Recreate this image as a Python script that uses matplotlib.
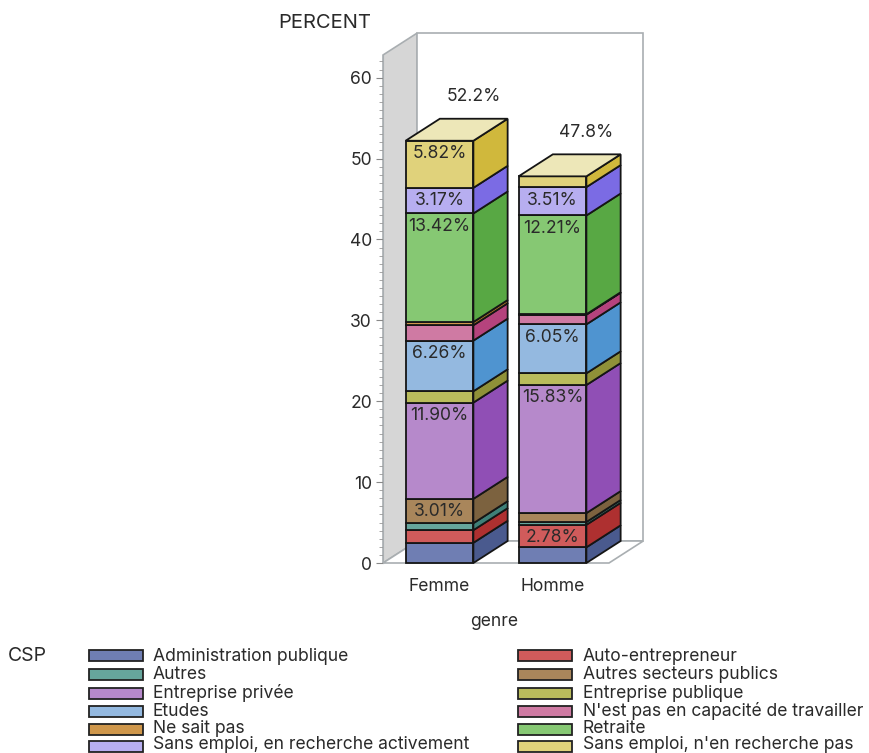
import matplotlib
matplotlib.use("Agg")
import matplotlib.pyplot as plt
from matplotlib.patches import Polygon, Rectangle
from matplotlib.ticker import MultipleLocator
import numpy as np

plt.rcParams['font.family'] = ['Inter', 'Liberation Sans', 'DejaVu Sans']

genres = ["Femme", "Homme"]
totals = ["52.2%", "47.8%"]
categories = ["Administration publique", "Auto-entrepreneur", "Autres", "Autres secteurs publics",
              "Entreprise privée", "Entreprise publique", "Etudes", "N'est pas en capacité de travailler",
              "Ne sait pas", "Retraite", "Sans emploi, en recherche activement", "Sans emploi, n'en recherche pas"]
femme = [2.50, 1.56, 0.86, 3.01, 11.90, 1.40, 6.26, 1.90, 0.40, 13.42, 3.17, 5.82]
homme = [1.94, 2.78, 0.35, 1.10, 15.83, 1.45, 6.05, 1.20, 0.05, 12.21, 3.51, 1.33]
labels_shown = [{"5.82%", "3.17%", "13.42%", "6.26%", "11.90%", "3.01%"},
                {"3.51%", "12.21%", "6.05%", "15.83%", "2.78%"}]
front = ["#6F7EB3", "#D05B5B", "#66A59C", "#A9865B", "#B689CB", "#BABC5C",
         "#94B9E0", "#CF7AA3", "#CF974B", "#86C873", "#B7AEF0", "#E0D27B"]
side = ["#4A5A8E", "#AE3030", "#3F8078", "#7C623F", "#904FB5", "#8F9138",
        "#4F94D0", "#B5437D", "#B47A25", "#58A844", "#7B6BE4", "#D0B83C"]
top = "#EDE7B8"

W, H = 869, 753
FS = 12.6
INK = "#2A2A2A"
fig = plt.figure(figsize=(W / 100, H / 100), dpi=100)
ax = fig.add_axes([383 / W, 1 - 563 / H, (609 - 383) / W, (563 - 55) / H])
ax.set_xlim(-0.5, 1.5)
ax.set_ylim(0, 62.8)
ax.patch.set_visible(False)

dx, dy = 0.303, 2.72
bw = 0.6
grey = "#A9AEB1"

# walls
ax.add_patch(Polygon([(-0.5, 0), (-0.5 + dx, dy), (-0.5 + dx, 62.8 + dy), (-0.5, 62.8)],
                     closed=True, fc="#D6D6D6", ec=grey, lw=1.2, clip_on=False, zorder=1))
ax.add_patch(Polygon([(-0.5 + dx, dy), (1.5 + dx, dy), (1.5 + dx, 62.8 + dy), (-0.5 + dx, 62.8 + dy)],
                     closed=True, fc="white", ec=grey, lw=1.2, clip_on=False, zorder=1))
ax.add_patch(Polygon([(-0.5, 0), (1.5, 0), (1.5 + dx, dy), (-0.5 + dx, dy)],
                     closed=True, fc="white", ec=grey, lw=1.2, clip_on=False, zorder=1))

# bars
for i, vals in enumerate([femme, homme]):
    x0, x1 = i - bw / 2, i + bw / 2
    b = 0.0
    for k, v in enumerate(vals):
        t = b + v
        ax.add_patch(Rectangle((x0, b), bw, v, fc=front[k], ec="#151515", lw=1.3, zorder=3, clip_on=False))
        ax.add_patch(Polygon([(x1, b), (x1 + dx, b + dy), (x1 + dx, t + dy), (x1, t)], closed=True,
                             fc=side[k], ec="#151515", lw=1.3, zorder=3, clip_on=False))
        s = f"{v:.2f}%"
        if s in labels_shown[i]:
            ax.text(i, t - 1.6, s, ha="center", va="center", fontsize=FS, color=INK,
                    zorder=5, clip_on=False)
        b = t
    ax.add_patch(Polygon([(x0, b), (x1, b), (x1 + dx, b + dy), (x0 + dx, b + dy)], closed=True,
                         fc=top, ec="#151515", lw=1.3, zorder=4, clip_on=False))
    ax.text(x1, b + dy + 2.7, totals[i], ha="center", va="center", fontsize=FS,
            color=INK, clip_on=False)

# axes
for s in ["top", "right", "bottom"]:
    ax.spines[s].set_visible(False)
ax.spines["left"].set_color(grey)
ax.set_yticks(range(0, 61, 10))
ax.yaxis.set_minor_locator(MultipleLocator(1))
ax.tick_params(axis="y", which="major", length=5, color="#888888", labelsize=FS, pad=3, labelcolor=INK)
ax.tick_params(axis="y", which="minor", length=3, color="#999999")
ax.set_xticks([0, 1], genres)
ax.tick_params(axis="x", length=0, labelsize=FS, pad=10.5, labelcolor=INK)

fig.text(325 / W, 1 - 22.5 / H, "PERCENT", ha="center", va="center", fontsize=14.5, color=INK)
fig.text(494 / W, 1 - 622 / H, "genre", ha="center", va="center", fontsize=FS, color=INK)

# legend
fig.text(8 / W, 1 - 661 / H, "CSP", ha="left", va="baseline", fontsize=14, color=INK)
text_base = [661, 679, 697.5, 715.5, 733, 749]
swatch_y = [655.7, 674.3, 693, 711, 729, 746.8]
for k, name in enumerate(categories):
    r, c = k // 2, k % 2
    xs = [89, 518][c]
    fig.add_artist(Rectangle((xs / W, 1 - (swatch_y[r] + 5.5) / H), 54 / W, 11 / H, transform=fig.transFigure,
                             fc=front[k], ec="#222222", lw=1.3))
    fig.text(([153, 583][c]) / W, 1 - text_base[r] / H, name, ha="left", va="baseline", fontsize=FS, color=INK)

fig.savefig("out.png", dpi=100)
